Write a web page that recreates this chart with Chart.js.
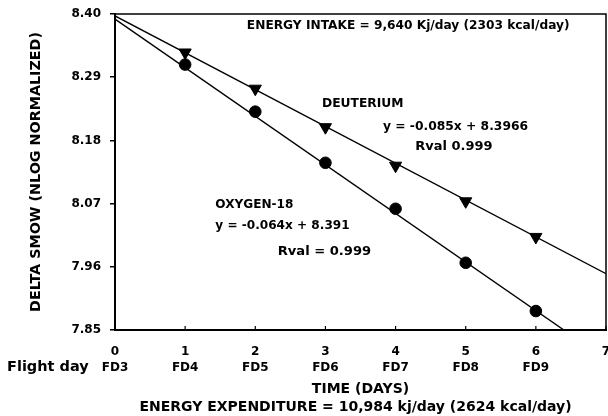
<!DOCTYPE html>
<html>
<head>
<meta charset="utf-8">
<script src="https://cdn.jsdelivr.net/npm/chart.js@4"></script>
<style>
  html, body { margin: 0; padding: 0; background: #fff; }
  #wrap { width: 608px; height: 416px; }
</style>
</head>
<body>
<div id="wrap"><canvas id="graph" width="608" height="416"></canvas></div>
<script>
// values
const days = [1, 2, 3, 4, 5, 6];
const deuterium = [8.333, 8.270, 8.203, 8.136, 8.074, 8.012];
const oxygen18 = [8.312, 8.230, 8.141, 8.061, 7.967, 7.883];
// end points of the two fitted lines
const deutFitX = [0, 7];
const deutFitY = [8.3966, 7.948];
const oxyFitX = [0, 6.40];
const oxyFitY = [8.391, 7.85];
// axis ticks
const yTicks = [7.85, 7.96, 8.07, 8.18, 8.29, 8.40];
const xTicks = [0, 1, 2, 3, 4, 5, 6, 7];
const flightDays = ['FD3', 'FD4', 'FD5', 'FD6', 'FD7', 'FD8', 'FD9', ''];

const FONT = "'DejaVu Sans', sans-serif";

function pts(xs, ys) {
    return xs.map((x, i) => ({ x: x, y: ys[i] }));
}

// text written inside the plot, placed in data units
const notes = [
    { text: 'ENERGY INTAKE = 9,640 Kj/day (2303 kcal/day)', x: 4.18, y: 8.380, align: 'center', size: 12.2 },
    { text: 'DEUTERIUM', x: 2.95, y: 8.244, align: 'left', size: 12.3 },
    { text: 'y = -0.085x + 8.3966', x: 3.82, y: 8.204, align: 'left', size: 12.3 },
    { text: 'Rval 0.999', x: 4.28, y: 8.169, align: 'left', size: 13 },
    { text: 'OXYGEN-18', x: 1.43, y: 8.068, align: 'left', size: 12.1 },
    { text: 'y = -0.064x + 8.391', x: 1.43, y: 8.032, align: 'left', size: 12.1 },
    { text: 'Rval = 0.999', x: 2.32, y: 7.986, align: 'left', size: 13.1 }
];

const extras = {
    id: 'extras',
    afterDraw(chart) {
        const c = chart.ctx;
        const a = chart.chartArea;
        const xs = chart.scales.x, ys = chart.scales.y;
        c.save();
        // frame
        c.strokeStyle = '#000';
        c.lineWidth = 1.5;
        c.strokeRect(a.left, a.top, a.right - a.left, a.bottom - a.top);
        // small ticks pointing up from the time axis
        c.lineWidth = 1.2;
        xTicks.forEach(v => {
            const px = xs.getPixelForValue(v);
            c.beginPath();
            c.moveTo(px, a.bottom);
            c.lineTo(px, a.bottom - 4);
            c.stroke();
        });
        c.fillStyle = '#000';
        c.textBaseline = 'middle';
        notes.forEach(n => {
            c.font = 'bold ' + n.size + 'px ' + FONT;
            c.textAlign = n.align;
            c.fillText(n.text, xs.getPixelForValue(n.x), ys.getPixelForValue(n.y));
        });
        c.font = 'bold 14.5px ' + FONT;
        c.textAlign = 'left';
        c.fillText('Flight day', 7, 367);
        c.font = 'bold 14px ' + FONT;
        c.textAlign = 'center';
        c.fillText('ENERGY EXPENDITURE = 10,984 kj/day (2624 kcal/day)', 355.5, 407.5);
        c.restore();
    }
};

const ctx = document.getElementById('graph').getContext('2d');
const chart = new Chart(ctx, {
    type: 'scatter',
    data: {
        datasets: [
            {
                label: 'Deuterium fit',
                data: pts(deutFitX, deutFitY),
                showLine: true,
                borderColor: '#000',
                borderWidth: 1.4,
                pointRadius: 0
            },
            {
                label: 'Oxygen-18 fit',
                data: pts(oxyFitX, oxyFitY),
                showLine: true,
                borderColor: '#000',
                borderWidth: 1.4,
                pointRadius: 0
            },
            {
                label: 'Deuterium',
                data: pts(days, deuterium),
                pointStyle: 'triangle',
                rotation: 180,
                pointRadius: 7,
                backgroundColor: '#000',
                borderColor: '#000'
            },
            {
                label: 'Oxygen-18',
                data: pts(days, oxygen18),
                pointStyle: 'circle',
                pointRadius: 5.8,
                backgroundColor: '#000',
                borderColor: '#000'
            }
        ]
    },
    options: {
        responsive: false,
        animation: false,
        events: [],
        layout: { autoPadding: false, padding: { top: 14, right: 2, left: 0, bottom: 0 } },
        plugins: { legend: { display: false }, tooltip: { enabled: false } },
        scales: {
            x: {
                type: 'linear',
                min: 0,
                max: 7,
                afterBuildTicks: s => { s.ticks = xTicks.map(v => ({ value: v })); },
                afterFit: s => { s.height = 86; s.paddingRight = 0; s.paddingLeft = 0; },
                grid: { display: false },
                border: { color: '#000', width: 2 },
                ticks: {
                    color: '#000',
                    padding: 6,
                    maxRotation: 0,
                    font: { family: FONT, weight: 'bold', size: 12, lineHeight: 1.32 },
                    callback: (v, i) => [String(v), flightDays[i]]
                },
                title: {
                    display: true,
                    text: 'TIME (DAYS)',
                    color: '#000',
                    padding: { top: 0, bottom: 18 },
                    font: { family: FONT, weight: 'bold', size: 14, lineHeight: 1.25 }
                }
            },
            y: {
                min: 7.85,
                max: 8.40,
                afterBuildTicks: s => { s.ticks = yTicks.map(v => ({ value: v })); },
                afterFit: s => { s.width = 115; s.paddingTop = 0; s.paddingBottom = 0; },
                grid: { drawOnChartArea: false, color: '#000', lineWidth: 1.5, tickLength: 5 },
                border: { color: '#000', width: 2 },
                ticks: {
                    color: '#000',
                    padding: 9,
                    font: { family: FONT, weight: 'bold', size: 12 },
                    callback: v => v.toFixed(2)
                },
                title: {
                    display: true,
                    text: 'DELTA SMOW (NLOG NORMALIZED)',
                    color: '#000',
                    padding: { top: 28, bottom: 0 },
                    font: { family: FONT, weight: 'bold', size: 14.3 }
                }
            }
        }
    },
    plugins: [extras]
});
</script>
</body>
</html>
